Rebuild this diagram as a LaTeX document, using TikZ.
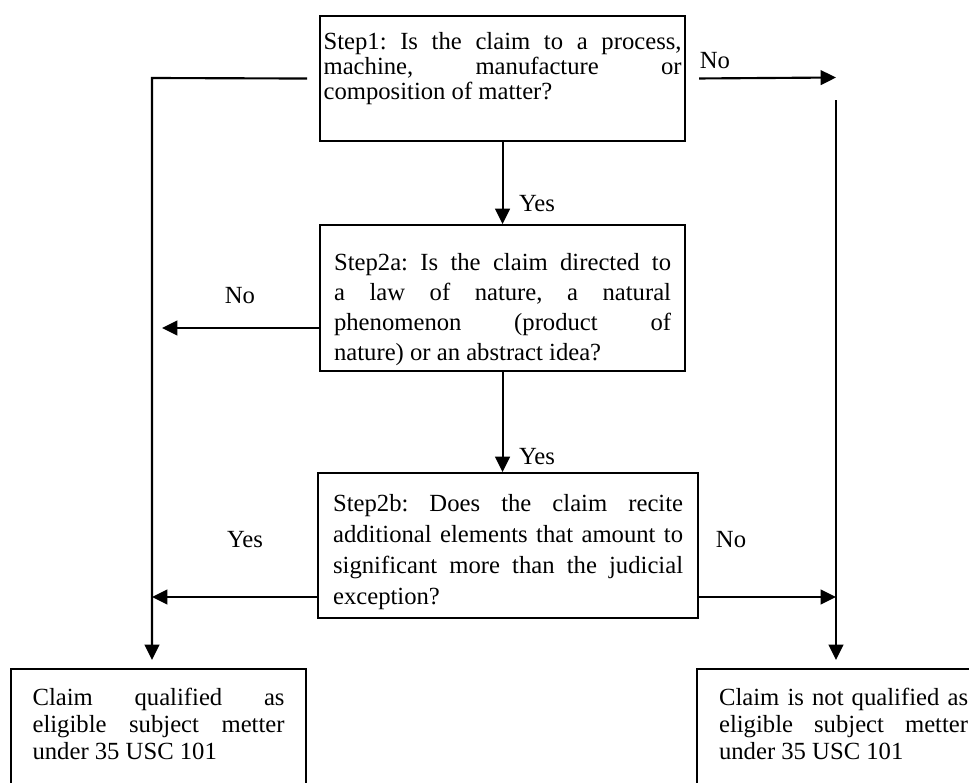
\documentclass[tikz,border=0pt]{standalone}
\usepackage{fontspec}
\setmainfont{Liberation Serif}
\usetikzlibrary{arrows.meta}

\def\px{0.75pt}
\def\schrift#1{\fontsize{18.5}{#1}\selectfont\sloppy\frenchspacing}

\tikzset{
	box/.style={draw,anchor=north west,align=justify,inner ysep=0pt},
	lbl/.style={font=\schrift{20pt},inner sep=0pt},
}

\begin{document}
\begin{tikzpicture}[x=\px,y=-\px,>={Triangle[length=11.5pt,width=11pt]},line width=1.6pt]

\useasboundingbox (0,0) rectangle (969,782);
\clip (0,0) rectangle (969,782);

% boxes
\node[box,text width=358*\px,inner xsep=3.5*\px,text height=33*\px,text depth=92*\px,
	font=\schrift{18.75pt}] (step1) at (319,15)
	{Step1: Is the claim to a process,\linebreak machine, manufacture or\linebreak composition of matter?};
\node[box,text width=337*\px,inner xsep=14*\px,text height=45*\px,text depth=101*\px,
	font=\schrift{22.5pt}] (step2a) at (319,224)
	{Step2a: Is the claim directed to\linebreak a law of nature, a natural\linebreak phenomenon (product of\linebreak nature) or an abstract idea?};
\node[box,text width=350*\px,inner xsep=15*\px,text height=38*\px,text depth=107*\px,
	font=\schrift{23.25pt}] (step2b) at (317,472)
	{Step2b: Does the claim recite\linebreak additional elements that amount to\linebreak significant more than the judicial\linebreak exception?};
\node[box,text width=252*\px,inner xsep=21.5*\px,text height=36*\px,text depth=150*\px,
	font=\schrift{20.25pt}] (qual) at (10,668)
	{Claim qualified as\linebreak eligible subject metter\linebreak under 35 USC 101};
\node[box,text width=249*\px,inner xsep=22*\px,text height=36*\px,text depth=150*\px,
	font=\schrift{20.25pt}] (notq) at (696,668)
	{Claim is not qualified as\linebreak eligible subject metter\linebreak under 35 USC 101};

% labels
\node[lbl] (no1) at (715,61) {No};
\node[lbl] (yes1) at (537,204) {Yes};
\node[lbl] (no2) at (240,296) {No};
\node[lbl] (yes2) at (537,457) {Yes};
\node[lbl] (yes3) at (245,540) {Yes};
\node[lbl] (no3) at (731,540) {No};

% free ends
\coordinate (lt) at (152,78);
\coordinate (tr) at (836,77.5);
\coordinate (rt) at (836,100);
\coordinate (nol) at (162,328);
\coordinate (yl) at (152,597);
\coordinate (nr) at (836,597);

\draw[->,shorten <=12*\px,shorten >=8*\px] (step1.west) -- (lt) -- (lt |- qual.north);
\draw[->,shorten <=13*\px] (step1.east) -- (tr);
\draw[->,shorten >=8*\px] (rt) -- (rt |- notq.north);

\draw[->] (step1) -- (step2a);
\draw[->] (step2a.south) -- (step2a.south |- step2b.north);
\draw[->] (nol -| step2a.west) -- (nol);
\draw[->] (yl -| step2b.west) -- (yl);
\draw[->] (nr -| step2b.east) -- (nr);

\end{tikzpicture}
\end{document}
